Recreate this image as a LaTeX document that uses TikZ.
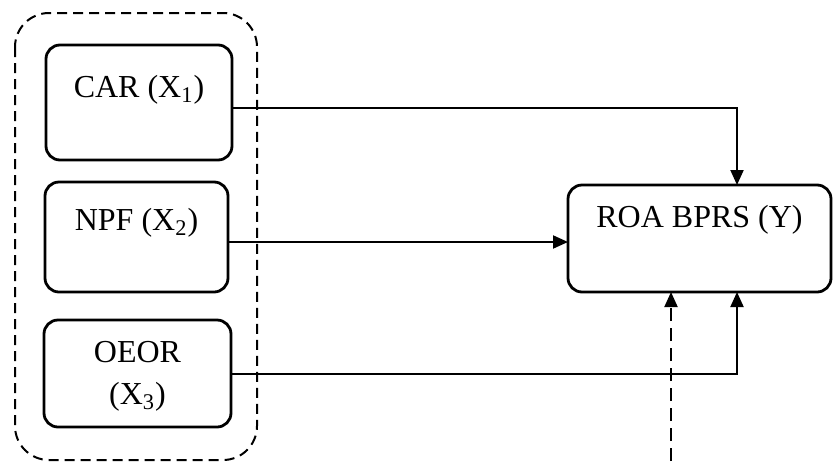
\documentclass[tikz,border=0pt]{standalone}
\usepackage{fontspec}
\setmainfont{Liberation Serif}
\usetikzlibrary{arrows.meta}
\begin{document}
\begin{tikzpicture}[x=0.5pt,y=-0.5pt,
  box/.style={draw, line width=1.4pt, rounded corners=7pt, inner sep=0pt, outer sep=0pt, fill=white},
  lbl/.style={font=\fontsize{16}{21}\selectfont, inner sep=0pt, align=center},
  arr/.style={line width=1pt, -{Triangle[length=7.5pt,width=6.5pt]}},
  outerdash/.style={draw, line width=1pt, dash pattern=on 5pt off 3pt, rounded corners=17pt}]
\useasboundingbox[fill=white] (0,0) rectangle (833,461);
% outer dashed group
\draw[outerdash] (15,13) rectangle (257,460);
% boxes
\node[box, minimum width=93pt, minimum height=57.5pt] (car) at (139,102.5) {};
\node[box, minimum width=91.5pt, minimum height=55pt] (npf) at (136.5,237) {};
\node[box, minimum width=93.5pt, minimum height=53.5pt] (oeor) at (137.5,373.5) {};
\node[box, minimum width=131.5pt, minimum height=53.5pt] (roa) at (699.5,238.5) {};
% labels
\node[lbl] (carl) at (139,90) {CAR (X\textsubscript{1})};
\node[lbl] (npfl) at (136.5,223) {NPF (X\textsubscript{2})};
\node[lbl] (oeorl) at (137.5,376) {OEOR\\(X\textsubscript{3})};
\node[lbl] (roal) at (699.5,220) {ROA BPRS (Y)};
% helper coordinates
\coordinate (h1) at (0,108);
\coordinate (h2) at (0,242);
\coordinate (h3) at (0,374);
\coordinate (v1) at (737,0);
\coordinate (bot) at (671,461);
% connectors
\draw[arr] (car.east |- h1) -| (roa.north -| v1);
\draw[arr] (npf.east |- h2) -- (roa.west |- h2);
\draw[arr] (oeor.east |- h3) -| (roa.south -| v1);
\draw[arr, dash pattern=on 6.5pt off 3.5pt] (bot) -- (roa.south -| bot);
\end{tikzpicture}
\end{document}
